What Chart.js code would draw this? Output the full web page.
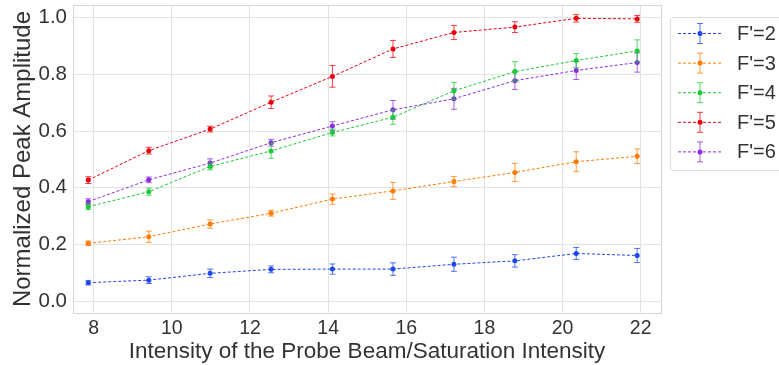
<!DOCTYPE html>
<html>
<head>
<meta charset="utf-8">
<script src="https://cdn.jsdelivr.net/npm/chart.js@4"></script>
<style>
  html, body { margin: 0; padding: 0; background: #fff; }
  #wrap { width: 779px; height: 365px; position: relative; }
</style>
</head>
<body>
<div id="wrap"><canvas id="chart"></canvas></div>
<script>
// x positions (intensity / saturation intensity)
const xValues = [7.86, 9.41, 10.98, 12.54, 14.11, 15.66, 17.22, 18.78, 20.35, 21.91];
const xTicks = [8, 10, 12, 14, 16, 18, 20, 22];
const yTicks = [0.0, 0.2, 0.4, 0.6, 0.8, 1.0];

const seriesLabels = ["F'=2", "F'=3", "F'=4", "F'=5", "F'=6"];
const seriesColors = ['#1f47ea', '#ff7c00', '#1ac938', '#e8000b', '#8b2be2'];

const f2 = [0.065, 0.074, 0.098, 0.112, 0.113, 0.113, 0.130, 0.142, 0.168, 0.161];
const f2Err = [0.008, 0.012, 0.015, 0.012, 0.018, 0.022, 0.025, 0.022, 0.021, 0.025];
const f3 = [0.204, 0.227, 0.272, 0.310, 0.360, 0.389, 0.422, 0.454, 0.492, 0.511];
const f3Err = [0.008, 0.020, 0.015, 0.010, 0.018, 0.030, 0.018, 0.032, 0.035, 0.026];
const f4 = [0.333, 0.386, 0.475, 0.530, 0.595, 0.649, 0.742, 0.810, 0.849, 0.883];
const f4Err = [0.010, 0.012, 0.012, 0.026, 0.012, 0.025, 0.030, 0.035, 0.025, 0.039];
const f5 = [0.427, 0.531, 0.607, 0.702, 0.793, 0.890, 0.948, 0.967, 0.998, 0.996];
const f5Err = [0.012, 0.012, 0.010, 0.022, 0.038, 0.030, 0.025, 0.019, 0.013, 0.012];
const f6 = [0.351, 0.428, 0.487, 0.559, 0.618, 0.675, 0.714, 0.778, 0.814, 0.842];
const f6Err = [0.010, 0.010, 0.015, 0.012, 0.015, 0.033, 0.037, 0.031, 0.032, 0.034];

const seriesValues = [f2, f3, f4, f5, f6];
const seriesErrors = [f2Err, f3Err, f4Err, f5Err, f6Err];

const FONT = "'Liberation Sans', Arial, sans-serif";
const TEXT = '#333333';
const GRID = '#e3e3e3';

function withAlpha(hex, a) {
  const n = parseInt(hex.slice(1), 16);
  return `rgba(${(n >> 16) & 255},${(n >> 8) & 255},${n & 255},${a})`;
}

// Error bars drawn under each dataset's line and markers
const errorBars = {
  id: 'errorBars',
  beforeDatasetDraw(chart, args) {
    const i = args.index;
    const errs = seriesErrors[i];
    const vals = seriesValues[i];
    const xs = chart.scales.x, ys = chart.scales.y;
    const ctx = chart.ctx;
    ctx.save();
    ctx.strokeStyle = withAlpha(seriesColors[i], 0.75);
    ctx.lineWidth = 1;
    vals.forEach((v, j) => {
      const px = xs.getPixelForValue(xValues[j]);
      const top = ys.getPixelForValue(v + errs[j]);
      const bot = ys.getPixelForValue(v - errs[j]);
      ctx.beginPath();
      ctx.moveTo(px, top); ctx.lineTo(px, bot);
      ctx.moveTo(px - 3, top); ctx.lineTo(px + 3, top);
      ctx.moveTo(px - 3, bot); ctx.lineTo(px + 3, bot);
      ctx.stroke();
    });
    ctx.restore();
  }
};

// Frame around plot area + legend box on the right
const frameAndLegend = {
  id: 'frameAndLegend',
  afterDraw(chart) {
    const ctx = chart.ctx;
    const a = chart.chartArea;
    ctx.save();
    ctx.strokeStyle = '#d6d6d6';
    ctx.lineWidth = 1;
    ctx.strokeRect(Math.round(a.left) + 0.5, Math.round(a.top) + 0.5,
      Math.round(a.right - a.left), Math.round(a.bottom - a.top));

    // legend
    const bx = 670.5, by = 17.5, bw = 120, bh = 153;
    ctx.fillStyle = 'rgba(255,255,255,0.8)';
    ctx.strokeStyle = '#dddddd';
    ctx.beginPath();
    ctx.roundRect(bx, by, bw, bh, 3);
    ctx.fill();
    ctx.stroke();

    ctx.font = `20px ${FONT}`;
    ctx.textBaseline = 'middle';
    seriesLabels.forEach((lab, i) => {
      const cy = 33.5 + i * 29.6;
      const col = seriesColors[i];
      ctx.strokeStyle = col;
      ctx.setLineDash([3, 2]);
      ctx.beginPath();
      ctx.moveTo(678, cy); ctx.lineTo(721, cy);
      ctx.stroke();
      ctx.setLineDash([]);
      ctx.strokeStyle = withAlpha(col, 0.75);
      ctx.beginPath();
      ctx.moveTo(700, cy - 10); ctx.lineTo(700, cy + 10);
      ctx.moveTo(697, cy - 10); ctx.lineTo(703, cy - 10);
      ctx.moveTo(697, cy + 10); ctx.lineTo(703, cy + 10);
      ctx.stroke();
      ctx.fillStyle = col;
      ctx.beginPath();
      ctx.arc(700, cy, 2.5, 0, Math.PI * 2);
      ctx.fill();
      ctx.fillStyle = TEXT;
      ctx.fillText(lab, 737, cy + 1);
    });
    ctx.restore();
  }
};

const datasets = seriesLabels.map((lab, i) => ({
  label: lab,
  data: seriesValues[i].map((v, j) => ({ x: xValues[j], y: v })),
  borderColor: seriesColors[i],
  backgroundColor: seriesColors[i],
  borderWidth: 1,
  borderDash: [3, 2],
  pointRadius: 2.5,
  pointBorderWidth: 0,
  pointHoverRadius: 2.5,
  tension: 0,
  fill: false
}));

new Chart(document.getElementById('chart'), {
  type: 'line',
  data: { datasets },
  plugins: [errorBars, frameAndLegend],
  options: {
    responsive: true,
    maintainAspectRatio: false,
    animation: false,
    events: [],
    layout: { padding: { left: 0, right: 118, top: 5, bottom: 0 } },
    plugins: { legend: { display: false }, tooltip: { enabled: false } },
    scales: {
      x: {
        type: 'linear',
        min: 7.47,
        max: 22.52,
        afterBuildTicks: s => { s.ticks = xTicks.map(v => ({ value: v })); },
        afterFit: s => { s.height = 52; s.paddingLeft = 0; s.paddingRight = 0; },
        grid: { color: GRID, drawTicks: false },
        border: { display: false },
        ticks: { color: TEXT, font: { family: FONT, size: 19.5 }, padding: 4 },
        title: {
          display: true,
          text: 'Intensity of the Probe Beam/Saturation Intensity',
          color: TEXT,
          font: { family: FONT, size: 22.5 },
          padding: { top: 0, bottom: 0 }
        }
      },
      y: {
        min: -0.042,
        max: 1.045,
        afterBuildTicks: s => { s.ticks = yTicks.map(v => ({ value: v })); },
        afterFit: s => { s.width = 73; s.paddingTop = 0; s.paddingBottom = 0; },
        grid: { color: GRID, drawTicks: false },
        border: { display: false },
        ticks: {
          color: TEXT,
          font: { family: FONT, size: 20.5 },
          padding: 6,
          callback: v => v.toFixed(1)
        },
        title: {
          display: true,
          text: 'Normalized Peak Amplitude',
          color: TEXT,
          font: { family: FONT, size: 24 },
          padding: { top: 9, bottom: 0 }
        }
      }
    }
  }
});
</script>
</body>
</html>
